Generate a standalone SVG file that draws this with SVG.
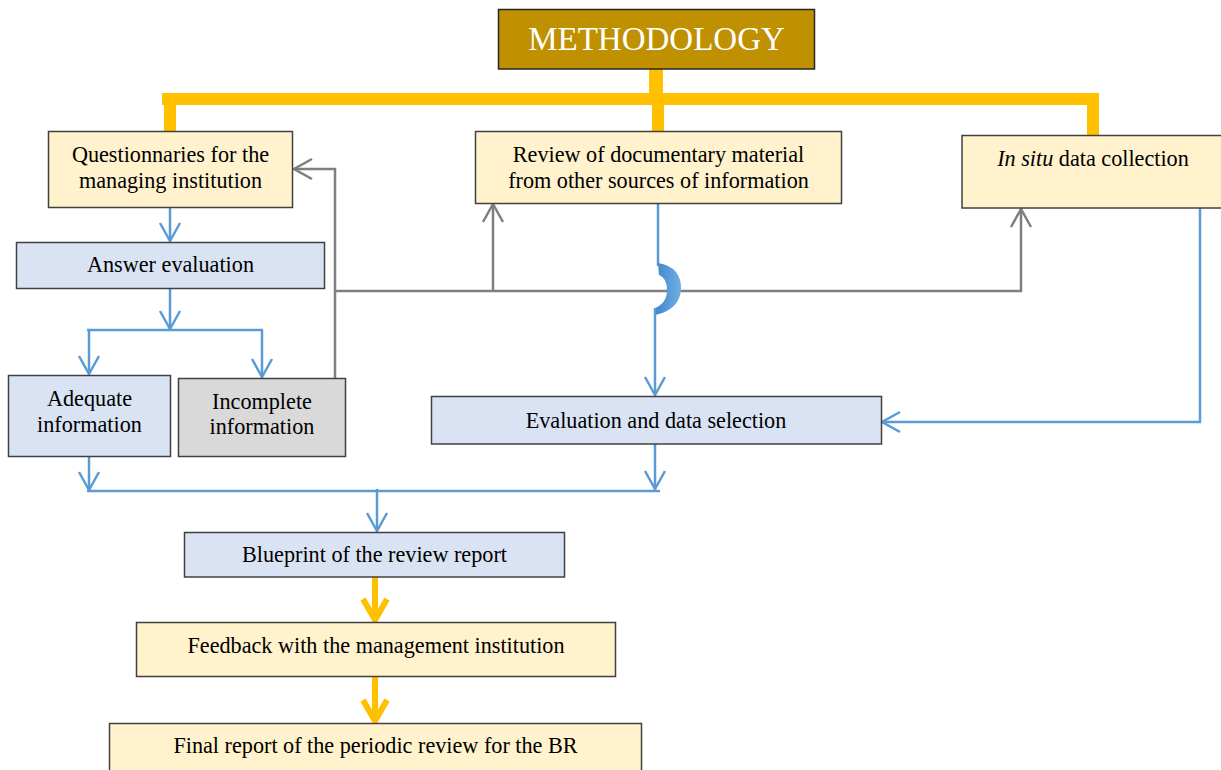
<svg xmlns="http://www.w3.org/2000/svg" width="1221" height="770" viewBox="0 0 1221 770">
<style>
.box{stroke:#404040;stroke-width:1.5}
.yel{fill:#FFF2CC}
.blu{fill:#DAE3F3}
.gry{fill:#D9D9D9}
.t{font-family:"Liberation Serif","Times New Roman",serif;font-size:22.2px;fill:#000;text-anchor:middle}
.bl{stroke:#5B9BD5;stroke-width:2.5;fill:none}
.gl{stroke:#7F7F7F;stroke-width:2.5;fill:none}
.yl{stroke:#FFC000;fill:none}
</style>
<defs>
<marker id="ab" viewBox="0 0 20 22" refX="19" refY="11" markerWidth="20" markerHeight="22" markerUnits="userSpaceOnUse" orient="auto" overflow="visible">
<path d="M1,1 L19,11 L1,21" fill="none" stroke="#5B9BD5" stroke-width="2.5"/>
</marker>
<marker id="ag" viewBox="0 0 20 22" refX="19" refY="11" markerWidth="20" markerHeight="22" markerUnits="userSpaceOnUse" orient="auto" overflow="visible">
<path d="M1,1 L19,11 L1,21" fill="none" stroke="#7F7F7F" stroke-width="2.5"/>
</marker>
<marker id="ay" viewBox="0 0 26 28" refX="23" refY="14" markerWidth="26" markerHeight="28" markerUnits="userSpaceOnUse" orient="auto" overflow="visible">
<path d="M2,2 L23,14 L2,26" fill="none" stroke="#FFC000" stroke-width="6"/>
</marker>
<linearGradient id="hopg" x1="0" y1="0" x2="1" y2="0">
<stop offset="0" stop-color="#3F86CC"/>
<stop offset="1" stop-color="#72AEE3"/>
</linearGradient>
</defs>

<g id="connectors">
<path class="yl" stroke-width="14" d="M656,69 V105"/>
<path class="yl" stroke-width="12" d="M162,99 H1099"/>
<path class="yl" stroke-width="12" d="M170,99 V131"/>
<path class="yl" stroke-width="12" d="M658,99 V131"/>
<path class="yl" stroke-width="12" d="M1093,99 V135"/>
<path class="gl" d="M335,378 V169 H294" marker-end="url(#ag)"/>
<path class="gl" d="M335,291 H1021 V209" marker-end="url(#ag)"/>
<path class="gl" d="M493,291 V204" marker-end="url(#ag)"/>
<path class="bl" d="M170,207 V241" marker-end="url(#ab)"/>
<path class="bl" d="M170,288 V329" marker-end="url(#ab)"/>
<path class="bl" d="M87,330 H263"/>
<path class="bl" d="M89,330 V374" marker-end="url(#ab)"/>
<path class="bl" d="M262,330 V377" marker-end="url(#ab)"/>
<path class="bl" d="M658,203 V266"/>
<path d="M658,263 Q682,267 681,290 Q679,310 655,315 L655,308 Q667,303 667,290 Q667,278 659,275 Z" fill="url(#hopg)"/>
<path class="bl" d="M655,308 V395" marker-end="url(#ab)"/>
<path class="bl" d="M1200,208 V422 H882" marker-end="url(#ab)"/>
<path class="bl" d="M655,444 V489" marker-end="url(#ab)"/>
<path class="bl" d="M89,456 V490" marker-end="url(#ab)"/>
<path class="bl" d="M87,491 H660"/>
<path class="bl" d="M377,489 V531" marker-end="url(#ab)"/>
<path class="yl" stroke-width="6" d="M375,577 V620" marker-end="url(#ay)"/>
<path class="yl" stroke-width="6" d="M375,676 V721" marker-end="url(#ay)"/>
</g>

<g id="methodology">
<rect x="498.5" y="9.5" width="316" height="59.5" fill="#BF9000" stroke="#262626" stroke-width="1.5"/>
<text x="656.5" y="50" class="t" style="font-size:33px;fill:#fff">METHODOLOGY</text>
</g>
<g id="questionnaires">
<rect class="box yel" x="48.5" y="131.5" width="244" height="76"/>
<text class="t" x="170.5" y="162">Questionnaries for the</text>
<text class="t" x="170.5" y="188">managing institution</text>
</g>
<g id="review">
<rect class="box yel" x="475.5" y="131.5" width="366" height="72"/>
<text class="t" x="658.5" y="162">Review of documentary material</text>
<text class="t" x="658.5" y="188">from other sources of information</text>
</g>
<g id="insitu">
<rect class="box yel" x="962" y="135.5" width="268" height="72.5"/>
<text class="t" x="1093" y="166"><tspan font-style="italic">In situ</tspan> data collection</text>
</g>
<g id="answer">
<rect class="box blu" x="16.5" y="242.5" width="308" height="46"/>
<text class="t" x="170.5" y="272">Answer evaluation</text>
</g>
<g id="adequate">
<rect class="box blu" x="8.5" y="375.5" width="162" height="81"/>
<text class="t" x="89.5" y="406">Adequate</text>
<text class="t" x="89.5" y="432">information</text>
</g>
<g id="incomplete">
<rect class="box gry" x="178.5" y="378.5" width="167" height="78"/>
<text class="t" x="262" y="409">Incomplete</text>
<text class="t" x="262" y="434">information</text>
</g>
<g id="evaluation">
<rect class="box blu" x="431.5" y="396.5" width="450" height="47.5"/>
<text class="t" x="656" y="428">Evaluation and data selection</text>
</g>
<g id="blueprint">
<rect class="box blu" x="184.5" y="532.5" width="380" height="44.5"/>
<text class="t" x="374.5" y="562">Blueprint of the review report</text>
</g>
<g id="feedback">
<rect class="box yel" x="136.5" y="622.5" width="479" height="54"/>
<text class="t" x="376" y="653">Feedback with the management institution</text>
</g>
<g id="final">
<rect class="box yel" x="109.5" y="723.5" width="532" height="60"/>
<text class="t" x="375.5" y="753">Final report of the periodic review for the BR</text>
</g>
</svg>
